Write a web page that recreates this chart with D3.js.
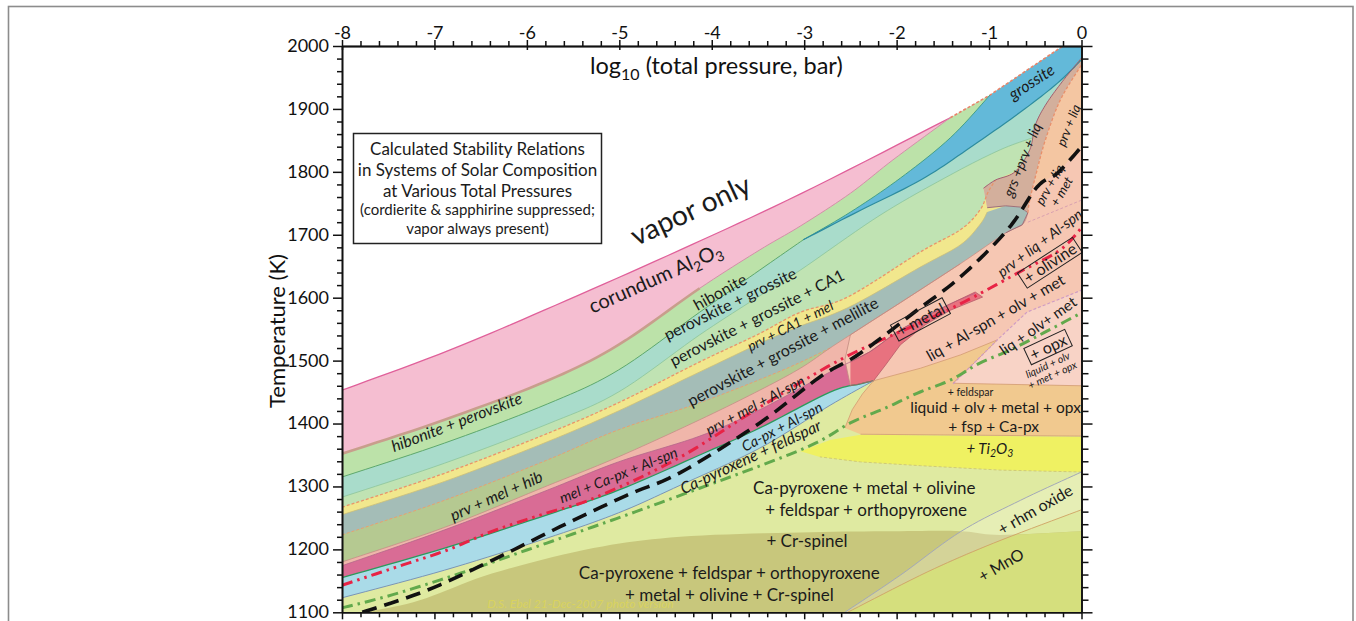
<!DOCTYPE html>
<html><head><meta charset="utf-8">
<script src="https://cdn.jsdelivr.net/npm/d3@7"></script>
<style>
html,body{margin:0;padding:0;background:#fff;}
svg{display:block;}
text{font-family:Lato,"Open Sans",sans-serif;}
</style></head><body>
<svg id="chart" width="1356" height="621"></svg>
<script>
// ---- axis ticks ----
const pressureTicks = [-8,-7,-6,-5,-4,-3,-2,-1,0];
const temperatureTicks = [1100,1200,1300,1400,1500,1600,1700,1800,1900,2000];

// ---- phase boundaries: [log10 P (bar), T (K)] ----
const corundumTop  = [[-8,1453],[-6.83,1517],[-5.69,1588],[-4.34,1676],[-3.04,1765],[-1.42,1886]];
const hiboniteTop  = [[-1.42,1886],[-0.99,1922]];
const grossiteTop  = [[-0.99,1922],[-0.20,2000],[0,2000]];
const corundumBase = [[-8,1352],[-6.89,1406],[-5.78,1468],[-5.01,1525],[-4.13,1615],[-3.48,1676],[-3.04,1714],[-2.50,1766],[-2.04,1819],[-1.42,1886]];
const grossiteUpper= [[-3.01,1692],[-2.50,1736],[-1.96,1790],[-1.42,1854],[-0.99,1922]];
const grossiteLower= [[-3.01,1692],[-2.39,1739],[-1.74,1787],[-1.24,1835],[-0.66,1895],[-0.26,1941],[0,1978]];
const hibPrvBase   = [[-8,1315],[-6.89,1369],[-5.78,1431],[-5.01,1485],[-4.13,1577],[-3.48,1644],[-3.01,1692]];
const ca1Top       = [[-8,1283],[-6.89,1337],[-5.78,1399],[-5.01,1450],[-4.13,1541],[-3.48,1603],[-3.04,1644],[-2.18,1731],[-1.42,1795],[-0.88,1835],[-0.53,1854]];
const melTop       = [[-8,1267],[-6.89,1321],[-5.78,1384],[-5.01,1433],[-4.13,1498],[-3.51,1541],[-3.04,1577],[-2.53,1601],[-1.74,1673],[-1.31,1708],[-1.10,1739],[-1.01,1768],[-0.93,1787]];
const grayTop      = [[-8,1255],[-6.89,1308],[-5.78,1371],[-5.01,1420],[-4.13,1482],[-3.23,1544],[-2.53,1584],[-1.74,1649],[-1.31,1684],[-1.10,1716],[-1.02,1736]];
const grayBulge    = [[-1.02,1736],[-0.82,1746],[-0.66,1744],[-0.58,1735]];
const hibMelTop    = [[-8,1223],[-6.89,1278],[-5.78,1342],[-5.01,1390],[-4.13,1433],[-3.23,1485],[-2.72,1520]];
const alSpnTop     = [[-8,1180],[-6.89,1235],[-5.78,1301],[-5.01,1347],[-4.13,1406],[-3.48,1453],[-3.04,1488],[-2.72,1520],[-2.50,1541],[-1.96,1592],[-1.31,1654],[-0.82,1703],[-0.64,1716],[-0.58,1735]];
const cpxTop       = [[-8,1174],[-6.89,1231],[-5.78,1294],[-5.01,1339],[-4.13,1380],[-3.48,1422],[-2.72,1482],[-2.29,1514],[-1.96,1549],[-1.45,1588],[-1.15,1607]];
const cpxSpnTop    = [[-8,1155],[-6.89,1202],[-5.78,1255],[-5.01,1294],[-4.13,1350],[-3.48,1393],[-2.72,1450],[-2.39,1463],[-2.25,1468]];
const fspTop       = [[-8,1123],[-6.89,1167],[-5.78,1218],[-5.01,1258],[-4.34,1302],[-3.48,1361],[-2.72,1429],[-2.25,1468]];
const crSpinelTop  = [[-7.75,1100],[-7.16,1119],[-6.37,1162],[-5.28,1202],[-4.34,1220],[-3.04,1227],[-1.96,1229],[-1.31,1229],[-0.88,1223],[0,1229]];
const rhmLine      = [[-2.56,1100],[-1.96,1159],[-1.31,1228],[-0.66,1278],[0,1323]];
const mnoLine      = [[-2.53,1100],[-1.67,1164],[-0.95,1210],[0,1263]];
const lineA        = [[-1.06,1774],[-0.93,1787],[-0.72,1800],[-0.56,1835],[-0.50,1874],[-0.39,1906],[-0.21,1943],[0,1981]];
const lineB        = [[-0.58,1735],[-0.56,1755],[-0.48,1803],[-0.39,1851],[-0.23,1914],[0,1970]];
const bulge        = [[-1.02,1743],[-0.82,1746],[-0.66,1744],[-0.58,1735],[-0.64,1716],[-0.82,1703]];
const liquidLower  = [[-1.31,1654],[-1.96,1592],[-2.29,1561],[-2.50,1541],[-2.56,1501],[-2.50,1460],[-2.25,1468],[0,1460]];
const alSpnOut     = [[-1.39,1463],[-1.15,1498],[-0.91,1533],[-0.59,1577],[0,1612]];
const metLimit     = [[-0.58,1720],[0,1755]];
const metalSliver  = [[-2.50,1460],[-2.25,1468],[-2.12,1493],[-1.96,1525],[-1.69,1557],[-1.42,1580],[-1.07,1601],[-1.15,1609],[-1.45,1588],[-1.96,1549],[-2.29,1514],[-2.50,1498]];
const liqFsp       = [[-2.56,1393],[-2.48,1422],[-2.37,1447],[-2.25,1468],[-1.74,1488],[-1.31,1509],[-0.91,1533],[-1.15,1498],[-1.39,1464],[0,1460],[0,1380],[-2.39,1383]];
const ti2o3        = [[-3.04,1356],[-2.72,1374],[-2.39,1382],[0,1379],[0,1323],[-0.88,1326],[-1.74,1333],[-2.39,1339],[-2.83,1347]];
const mnoField     = [[-2.53,1100],[-1.67,1164],[-0.95,1210],[-0.72,1223],[0,1229],[0,1100]];

// condensation curves of metal, olivine and orthopyroxene
const metalCurve   = [[-7.78,1100],[-7.08,1135],[-6.37,1183],[-5.64,1236],[-4.92,1286],[-4.34,1322],[-3.48,1401],[-2.83,1474],[-2.39,1512],[-1.78,1580],[-1.31,1633],[-0.80,1708],[-0.48,1776],[-0.26,1798],[0,1840]];
const olivineCurve = [[-8,1143],[-7.45,1170],[-6.86,1199],[-6.37,1229],[-5.78,1258],[-5.28,1281],[-4.36,1345],[-3.48,1426],[-2.55,1506],[-1.45,1580],[-0.63,1644],[-0.23,1676],[0,1711]];
const opxCurve     = [[-8,1107],[-7.45,1128],[-6.72,1162],[-6.00,1199],[-5.28,1236],[-4.56,1274],[-3.04,1358],[-2.50,1401],[-2.10,1426],[-1.78,1448],[-1.42,1469],[-1.10,1496],[-0.77,1517],[-0.41,1544],[0,1576]];

// ---- field labels ----
const labels = [
  {t:"vapor only", at:[-4.23,1739], r:-25, s:28},
  {t:"corundum Al_2O_3", at:[-4.61,1631], r:-24, s:20},
  {t:"hibonite", at:[-3.91,1609], r:-29, s:16},
  {t:"perovskite + grossite", at:[-3.80,1590], r:-26, s:16},
  {t:"perovskite + grossite + CA1", at:[-3.51,1568], r:-27, s:16},
  {t:"prv + CA1 + mel", at:[-3.15,1555], r:-27, s:14, it:true},
  {t:"perovskite + grossite + melilite", at:[-3.23,1514], r:-28, s:16},
  {t:"hibonite + perovskite", at:[-6.76,1402], r:-21, s:16, it:true},
  {t:"prv + mel + hib", at:[-6.33,1285], r:-24, s:16, it:true},
  {t:"mel + Ca-px + Al-spn", at:[-5.01,1318], r:-22, s:14.5, it:true},
  {t:"prv + mel + Al-spn", at:[-3.53,1429], r:-28, s:14.5, it:true},
  {t:"Ca-px + Al-spn", at:[-3.24,1395], r:-28, s:14.5, it:true},
  {t:"Ca-pyroxene + feldspar", at:[-3.58,1347], r:-25, s:16, it:true},
  {t:"Ca-pyroxene + metal + olivine", at:[-2.35,1298], r:0, s:17},
  {t:"+ feldspar + orthopyroxene", at:[-2.33,1263], r:0, s:17},
  {t:"+ Cr-spinel", at:[-2.97,1213], r:0, s:17},
  {t:"Ca-pyroxene + feldspar + orthopyroxene", at:[-3.81,1162], r:0, s:17},
  {t:"+ metal + olivine + Cr-spinel", at:[-3.81,1128], r:0, s:17},
  {t:"+ rhm oxide", at:[-0.50,1263], r:-30, s:16},
  {t:"+ MnO", at:[-0.87,1175], r:-30, s:16},
  {t:"+ Ti_2O_3", at:[-0.99,1360], r:0, s:15, it:true},
  {t:"liquid + olv + metal + opx", at:[-0.93,1425], r:0, s:15.5},
  {t:"+ fsp + Ca-px", at:[-0.95,1395], r:0, s:15.5},
  {t:"+ feldspar", at:[-1.20,1450], r:0, s:10.5},
  {t:"liq + Al-spn + olv + met", at:[-0.93,1568], r:-30, s:15.5},
  {t:"liq + olv+ met", at:[-0.47,1555], r:-35, s:15},
  {t:"+ opx", at:[-0.36,1521], r:-25, s:16, box:true},
  {t:"liquid + olv\n+ met + opx", at:[-0.34,1485], r:-25, s:10.5, it:true},
  {t:"prv + liq + Al-spn", at:[-0.45,1687], r:-37, s:14.5, it:true},
  {t:"+ olivine", at:[-0.34,1655], r:-33, s:16, box:true},
  {t:"+ metal", at:[-1.74,1565], r:-28, s:16, box:true},
  {t:"grs +prv + liq", at:[-0.64,1819], r:-68, s:14.5, it:true},
  {t:"prv + liq", at:[-0.14,1874], r:-68, s:13, it:true},
  {t:"prv + liq\n+ met", at:[-0.28,1774], r:-60, s:13, it:true},
  {t:"grossite", at:[-0.54,1943], r:-33, s:16, it:true}
];
const legendLines = ["Calculated Stability Relations","in Systems of Solar Composition","at Various Total Pressures","(cordierite & sapphirine suppressed;","vapor always present)"];

// ---- layout ----
const X0 = 342, X1 = 1081.5, Y0 = 612.3, Y1 = 46;
const x = d3.scaleLinear().domain([-8,0]).range([X0,X1]);
const y = d3.scaleLinear().domain([1100,2000]).range([Y0,Y1]);
const line = d3.line().x(d=>x(d[0])).y(d=>y(d[1]));
const svg = d3.select("#chart");

// Catmull-Rom resampling so the boundaries bend smoothly between their points
function sm(pts, n = 10){
  if (pts.length < 3) return pts.slice();
  const out = [];
  for (let i = 0; i < pts.length-1; i++){
    const p0 = pts[Math.max(0,i-1)], p1 = pts[i], p2 = pts[i+1], p3 = pts[Math.min(pts.length-1,i+2)];
    for (let k = 0; k < n; k++){
      const t = k/n, t2 = t*t, t3 = t2*t;
      const f = (a,b,c,d) => 0.5*((2*b)+(-a+c)*t+(2*a-5*b+4*c-d)*t2+(-a+3*b-3*c+d)*t3);
      out.push([f(p0[0],p1[0],p2[0],p3[0]), f(p0[1],p1[1],p2[1],p3[1])]);
    }
  }
  out.push(pts[pts.length-1]);
  return out;
}
const S = {
  corTop: sm(corundumTop), corBase: sm(corundumBase), gUp: sm(grossiteUpper), gLow: sm(grossiteLower),
  hibPrv: sm(hibPrvBase), ca1: sm(ca1Top), mel: sm(melTop), gray: sm(grayTop), hibMel: sm(hibMelTop),
  alSpn: sm(alSpnTop), cpx: sm(cpxTop), cpxSpn: sm(cpxSpnTop), fsp: sm(fspTop), cr: sm(crSpinelTop),
  rhm: sm(rhmLine), mno: sm(mnoLine), A: sm(lineA), B: sm(lineB),
  metal: sm(metalCurve), olivine: sm(olivineCurve), opx: sm(opxCurve)
};

svg.append("rect").attr("x",8.5).attr("y",6.5).attr("width",1344.5).attr("height",700)
  .attr("fill","none").attr("stroke","#8c8c8c").attr("stroke-width",1.6);

svg.append("defs").append("clipPath").attr("id","plotClip")
  .append("rect").attr("x",X0).attr("y",Y1).attr("width",X1-X0).attr("height",Y0-Y1);
const plot = svg.append("g").attr("clip-path","url(#plotClip)");

// area between a curve and the 1100 K floor
function below(curve){
  const pts = curve.slice();
  const last = pts[pts.length-1];
  if (last[0] < 0) pts.push([0,last[1]]);
  pts.push([0,1100],[pts[0][0],1100]);
  return pts;
}
const C = {
  corundum:"#f5bed1", hibonite:"#bce2a9", prvGrs:"#a9dccb", grossite:"#63b9d9", ca1:"#c0e3b3",
  mel:"#f1e78d", gray:"#a4bdb7", olive:"#b5c991", alSpn:"#f0b6aa", cpx:"#d96c95", cpxSpn:"#aadbe8",
  fsp:"#dfeaa1", crSpinel:"#c8c77c", mno:"#d5df7d", liquid:"#f6c7b3", opxLiq:"#f8d3c6",
  grsLiq:"#d3af9c", prvLiq:"#f4c6a2", metal:"#e8727f", liqFsp:"#f1c98f", ti2o3:"#eff162"
};
const Arev = S.A.slice().reverse();
const liquidField = [...Arev, ...bulge, ...liquidLower];
const grsPrvLiq = [...Arev, ...bulge.slice(0,4), ...S.B.slice(1)];
const prvLiq = [[0,1970],[-0.23,1914],[-0.39,1851],[-0.48,1803],[-0.51,1776],[-0.26,1798],[0,1840]];
const opxLiquid = [...alSpnOut, [0,1460]];
const rhmBand = [...S.rhm, ...S.mno.slice().reverse()];
const Afrom = v => S.A.filter(p => p[0] >= v);

const fills = [
  [below([...S.corTop, ...hiboniteTop.slice(1), ...grossiteTop.slice(1)]), C.corundum],
  [below([...S.corBase, ...hiboniteTop.slice(1), ...grossiteTop.slice(1)]), C.hibonite],
  [below([...S.hibPrv, ...S.gLow.slice(1)]), C.prvGrs],
  [[...S.gUp, ...grossiteTop.slice(1), ...S.gLow.slice().reverse()], C.grossite],
  [below([...S.ca1, ...Afrom(-0.50)]), C.ca1],
  [below([...S.mel, ...Afrom(-0.72)]), C.mel],
  [below([...S.gray, ...grayBulge.slice(1)]), C.gray],
  [below([...S.hibMel, ...S.alSpn.filter(p=>p[0]>-2.72)]), C.olive],
  [below(S.alSpn), C.alSpn],
  [below(S.cpx), C.cpx],
  [below(S.cpxSpn), C.cpxSpn],
  [below([...S.fsp, [0,1460]]), C.fsp],
  [below(S.cr), C.crSpinel],
  [mnoField, C.mno],
  [rhmBand, "rgba(255,255,255,0.22)"],
  [liquidField, C.liquid],
  [opxLiquid, C.opxLiq],
  [grsPrvLiq, C.grsLiq],
  [prvLiq, C.prvLiq],
  [metalSliver, C.metal],
  [liqFsp, C.liqFsp],
  [ti2o3, C.ti2o3]
];
fills.forEach(([pts,col]) => plot.append("path").attr("d", line(pts)+"Z").attr("fill", col));

// thin field boundaries
const strokes = [
  [S.corTop, "#e0609a", 1.3],
  [[...hiboniteTop, ...grossiteTop.slice(1)], "#e8846a", 1.6, "3,2"],
  [S.corBase.filter(p=>p[0]<=-4.1), "#c89e8c", 2.6],
  [S.corBase.filter(p=>p[0]>=-4.2), "#d390a8", 1],
  [S.hibPrv, "#5ea86c", 1],
  [S.gUp, "#44a088", 1],
  [S.gLow, "#2d8c9f", 1.2],
  [S.ca1, "#8cc49a", 0.8],
  [S.mel, "#e8956a", 1.3, "3,2"],
  [S.gray, "#cbbf7a", 0.8],
  [S.hibMel, "#e8a070", 1, "3,2"],
  [S.alSpn, "#c48e86", 0.8],
  [S.cpx, "#b4678a", 0.8],
  [S.cpxSpn, "#2b9a5c", 1.3],
  [S.fsp, "#7b95b5", 1],
  [S.A, "#9c5f72", 1],
  [bulge, "#9c6f7a", 1],
  [S.B, "#e8906a", 1.3, "3,2"],
  [liquidLower.slice(0,6), "#c28a80", 0.8],
  [metalSliver, "#b85a68", 0.8],
  [liqFsp, "#d39a72", 0.8],
  [ti2o3.slice(4), "#cfca78", 1, "3,2"],
  [S.rhm, "#a3a8b8", 1],
  [S.mno, "#d1a96a", 1],
  [alSpnOut, "#cf9cc4", 1.2, "3,2"],
  [metLimit, "#d8a0b0", 1, "3,2"]
];
strokes.forEach(([pts,col,w,dash]) => plot.append("path").attr("d", line(pts))
  .attr("fill","none").attr("stroke",col).attr("stroke-width",w).attr("stroke-dasharray",dash||null));

// condensation curves
plot.append("path").attr("d", line(S.opx)).attr("fill","none").attr("stroke","#62a94c")
  .attr("stroke-width",3).attr("stroke-dasharray","11,5,2.5,5");
plot.append("path").attr("d", line(S.olivine)).attr("fill","none").attr("stroke","#e82345")
  .attr("stroke-width",3).attr("stroke-dasharray","11,5,2.5,5,2.5,5");
plot.append("path").attr("d", line(S.metal)).attr("fill","none").attr("stroke","#111")
  .attr("stroke-width",3.6).attr("stroke-dasharray","15,8");

// version stamp in the lower field
plot.append("text").attr("x", x(-6.43)).attr("y", y(1106.5))
  .attr("font-family","'Liberation Serif',serif").attr("font-style","italic").attr("font-size",12)
  .attr("fill","#d9d35e").text("D.S. Ebel  21-Dec-2007  photo version");

// field labels
const lab = svg.append("g");
labels.forEach(L => {
  const g = lab.append("g").attr("transform", `translate(${x(L.at[0])},${y(L.at[1])}) rotate(${L.r})`);
  const rows = L.t.split("\n");
  const lh = L.s*1.05;
  const t = g.append("text").attr("text-anchor","middle").attr("font-size",L.s)
    .attr("font-style", L.it ? "italic" : null).attr("fill","#1b1b1b");
  rows.forEach((row,i) => {
    const y0 = (i-(rows.length-1)/2)*lh + L.s*0.35;
    const parts = row.split(/_(\d)/);
    let first = true;
    parts.forEach((p,j) => {
      if (!p) return;
      const ts = t.append("tspan").text(p);
      if (first) { ts.attr("x",0).attr("y",y0); first = false; }
      if (j%2===1) ts.attr("font-size",L.s*0.7).attr("dy",L.s*0.22);
      else if (j>0) ts.attr("dy",-L.s*0.22);
    });
  });
  if (L.box) {
    const b = t.node().getBBox();
    g.insert("rect","text").attr("x",b.x-3).attr("y",b.y+1).attr("width",b.width+6).attr("height",b.height-1)
      .attr("fill","none").attr("stroke","#222").attr("stroke-width",1);
  }
});

// legend box
svg.append("rect").attr("x",353.5).attr("y",133.5).attr("width",248).attr("height",110)
  .attr("fill","#fff").attr("stroke","#222").attr("stroke-width",1.5);
const legY = [155,176,197,215,234], legS = [17,17,17,15,15];
legendLines.forEach((s,i) => svg.append("text").attr("x",477.5).attr("y",legY[i])
  .attr("text-anchor","middle").attr("font-size",legS[i]).attr("fill","#1b1b1b").text(s));

// axes
const serif = "'Liberation Serif','Times New Roman',serif";
const minorP = d3.range(0,41).map(i=>-8+i*0.2).filter(v=>Math.abs(v-Math.round(v))>1e-6);
const minorT = d3.range(1100,2001,20).filter(v=>v%100!==0);
function styleAxis(g){
  g.selectAll("path.domain").attr("stroke","#111").attr("stroke-width",1.6);
  g.selectAll(".tick line").attr("stroke","#111").attr("stroke-width",1.5);
  g.selectAll("text").attr("font-family",serif).attr("font-size",18).attr("fill","#111");
}
const axes = svg.append("g");
axes.append("g").attr("transform",`translate(0,${Y1})`)
  .call(d3.axisTop(x).tickValues(minorP).tickSize(5).tickSizeOuter(0).tickFormat("")).call(styleAxis);
axes.append("g").attr("transform",`translate(0,${Y1})`)
  .call(d3.axisBottom(x).tickValues(pressureTicks).tickSize(4).tickSizeOuter(0).tickFormat("")).call(styleAxis);
axes.append("g").attr("transform",`translate(0,${Y1})`)
  .call(d3.axisTop(x).tickValues(pressureTicks).tickSize(6).tickPadding(1).tickSizeOuter(0).tickFormat(d=>String(d))).call(styleAxis);
axes.append("g").attr("transform",`translate(0,${Y0})`)
  .call(d3.axisBottom(x).tickValues(minorP).tickSize(5).tickSizeOuter(0).tickFormat("")).call(styleAxis);
axes.append("g").attr("transform",`translate(0,${Y0})`)
  .call(d3.axisBottom(x).tickValues(pressureTicks).tickSize(7).tickSizeOuter(0).tickFormat("")).call(styleAxis);
axes.append("g").attr("transform",`translate(${X0},0)`)
  .call(d3.axisLeft(y).tickValues(minorT).tickSize(5).tickSizeOuter(0).tickFormat("")).call(styleAxis);
const leftAx = axes.append("g").attr("transform",`translate(${X0},0)`)
  .call(d3.axisLeft(y).tickValues(temperatureTicks).tickSize(9).tickPadding(4).tickSizeOuter(0).tickFormat(d=>String(d))).call(styleAxis);
leftAx.selectAll(".tick text").attr("dy","0.3em");
axes.append("g").attr("transform",`translate(${X1},0)`)
  .call(d3.axisRight(y).tickValues(minorT).tickSize(7).tickSizeOuter(0).tickFormat("")).call(styleAxis);
axes.append("g").attr("transform",`translate(${X1},0)`)
  .call(d3.axisRight(y).tickValues(temperatureTicks).tickSize(11).tickSizeOuter(0).tickFormat("")).call(styleAxis);

// axis titles
const xt = svg.append("text").attr("x",590).attr("y",74).attr("font-family",serif).attr("font-size",23.5).attr("fill","#111");
xt.append("tspan").text("log");
xt.append("tspan").attr("font-size",16).attr("dy",6).text("10");
xt.append("tspan").attr("dy",-6).text(" (total pressure, bar)");
svg.append("text").attr("transform","translate(285,331) rotate(-90)").attr("text-anchor","middle")
  .attr("font-family",serif).attr("font-size",22).attr("fill","#111").text("Temperature (K)");
</script>
</body></html>
